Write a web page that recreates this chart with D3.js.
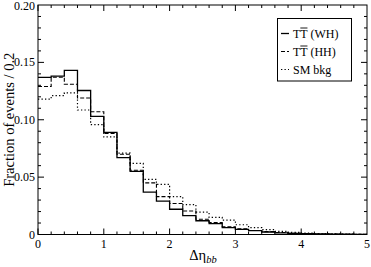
<!DOCTYPE html>
<html lang="en">
<head>
    <meta charset="UTF-8">
    <title>Delta eta bb</title>
    <style>
        body { margin: 0; background: #fff; }
        svg { display: block; font-family: "Liberation Serif", "DejaVu Serif", serif; }
    </style>
    <script src="https://d3js.org/d3.v7.min.js"></script>
</head>
<body>
    <div id="chart"></div>
    <script>
        // histogram bins, width 0.2 from 0 to 5
        const binEdges = d3.range(0, 26).map(i => +(i * 0.2).toFixed(1));
        const wh = [0.137, 0.138, 0.143, 0.1255, 0.103, 0.089, 0.067, 0.055, 0.037, 0.029, 0.022, 0.0165, 0.012, 0.0095, 0.006, 0.0045, 0.0033, 0.0022, 0.0015, 0.001, 0.0007, 0.0005, 0.0003, 0.0002, 0.0001];
        const hh = [0.129, 0.137, 0.131, 0.119, 0.107, 0.088, 0.070, 0.056, 0.045, 0.033, 0.027, 0.0205, 0.0133, 0.0105, 0.0068, 0.005, 0.0035, 0.0025, 0.0017, 0.0011, 0.0008, 0.0005, 0.0003, 0.0002, 0.0001];
        const smBkg = [0.118, 0.121, 0.1235, 0.1085, 0.0957, 0.085, 0.071, 0.062, 0.048, 0.0437, 0.033, 0.026, 0.0195, 0.015, 0.0125, 0.0085, 0.006, 0.0042, 0.0028, 0.0018, 0.0012, 0.0008, 0.0005, 0.0003, 0.0002];
        const xTicks = [0, 1, 2, 3, 4, 5];
        const yTicks = [0, 0.05, 0.10, 0.15, 0.20];
        const yTickLabels = ["0", "0.05", "0.10", "0.15", "0.20"];

        const width = 371, height = 267;
        const m = { left: 38, right: 4, top: 5, bottom: 32.5 };

        const svg = d3.select("#chart").append("svg")
            .attr("width", width).attr("height", height);

        const x = d3.scaleLinear().domain([0, 5]).range([m.left, width - m.right]);
        const y = d3.scaleLinear().domain([0, 0.2]).range([height - m.bottom, m.top]);

        // series lines
        const series = [
            { data: wh, dash: null, width: 1.3 },
            { data: hh, dash: "4,2", width: 1.1 },
            { data: smBkg, dash: "1.3,2.2", width: 1.2 }
        ];
        const step = d3.line().curve(d3.curveStepAfter).x(d => x(d[0])).y(d => y(d[1]));
        series.forEach(s => {
            const pts = s.data.map((v, i) => [binEdges[i], v]);
            pts.push([binEdges[binEdges.length - 1], s.data[s.data.length - 1]]);
            svg.append("path")
                .attr("d", step(pts))
                .attr("fill", "none")
                .attr("stroke", "#000")
                .attr("stroke-width", s.width)
                .attr("stroke-dasharray", s.dash);
        });

        // frame
        const g = svg.append("g").attr("stroke", "#000").attr("stroke-width", 1);
        g.append("rect")
            .attr("x", x(0)).attr("y", y(0.2))
            .attr("width", x(5) - x(0)).attr("height", y(0) - y(0.2))
            .attr("fill", "none");

        // ticks inward, all four sides
        const xMinor = d3.range(0, 25).map(i => i * 0.2);
        const yMinor = d3.range(0, 20).map(i => i * 0.01);
        xMinor.forEach(t => {
            const major = Math.abs(t - Math.round(t)) < 1e-6;
            const len = major ? 6 : 3;
            g.append("line").attr("x1", x(t)).attr("x2", x(t)).attr("y1", y(0)).attr("y2", y(0) - len);
            g.append("line").attr("x1", x(t)).attr("x2", x(t)).attr("y1", y(0.2)).attr("y2", y(0.2) + len);
        });
        yMinor.forEach(t => {
            const major = Math.abs(t / 0.05 - Math.round(t / 0.05)) < 1e-6;
            const len = major ? 6 : 3;
            g.append("line").attr("y1", y(t)).attr("y2", y(t)).attr("x1", x(0)).attr("x2", x(0) + len);
            g.append("line").attr("y1", y(t)).attr("y2", y(t)).attr("x1", x(5)).attr("x2", x(5) - len);
        });

        // tick labels
        svg.append("g").selectAll("text").data(xTicks).enter().append("text")
            .attr("x", d => x(d)).attr("y", y(0) + 13)
            .attr("text-anchor", "middle").attr("font-size", 12)
            .text(d => d);
        svg.append("g").selectAll("text").data(yTicks).enter().append("text")
            .attr("x", x(0) - 3).attr("y", d => y(d) + (d === 0.2 ? 5 : 4))
            .attr("text-anchor", "end").attr("font-size", 12)
            .text((d, i) => yTickLabels[i]);

        // axis titles
        svg.append("text")
            .attr("transform", `translate(14,${(y(0) + y(0.2)) / 2}) rotate(-90)`)
            .attr("text-anchor", "middle").attr("font-size", 14.5)
            .text("Fraction of events / 0.2");
        const xt = svg.append("text")
            .attr("x", 203).attr("y", 260)
            .attr("text-anchor", "middle").attr("font-size", 14.5);
        xt.append("tspan").text("\u0394\u03b7");
        xt.append("tspan").attr("font-style", "italic").attr("font-size", 10.5).attr("dy", 3).text("bb");

        // legend
        const lg = svg.append("g");
        lg.append("rect").attr("x", 277.5).attr("y", 18.5).attr("width", 74).attr("height", 62.5)
            .attr("fill", "#fff").attr("stroke", "#000").attr("stroke-width", 1);
        const legendNames = [["T", "T", " (WH)"], ["T", "T", " (HH)"], ["SM bkg"]];
        legendNames.forEach((name, i) => {
            const yy = 33.5 + i * 18;
            const s = series[i];
            lg.append("line").attr("x1", 281).attr("x2", 289).attr("y1", yy).attr("y2", yy)
                .attr("stroke", "#000").attr("stroke-width", s.width).attr("stroke-dasharray", s.dash);
            const t = lg.append("text").attr("x", 293).attr("y", yy + 4).attr("font-size", 12);
            if (name.length === 1) {
                t.text(name[0]);
            } else {
                t.text(name.join(""));
                // overline on the second T
                const a = t.node().getStartPositionOfChar(1).x;
                const b = t.node().getEndPositionOfChar(1).x;
                lg.append("line").attr("x1", a).attr("x2", b)
                    .attr("y1", yy - 5.5).attr("y2", yy - 5.5)
                    .attr("stroke", "#000").attr("stroke-width", 0.9);
            }
        });
    </script>
</body>
</html>
